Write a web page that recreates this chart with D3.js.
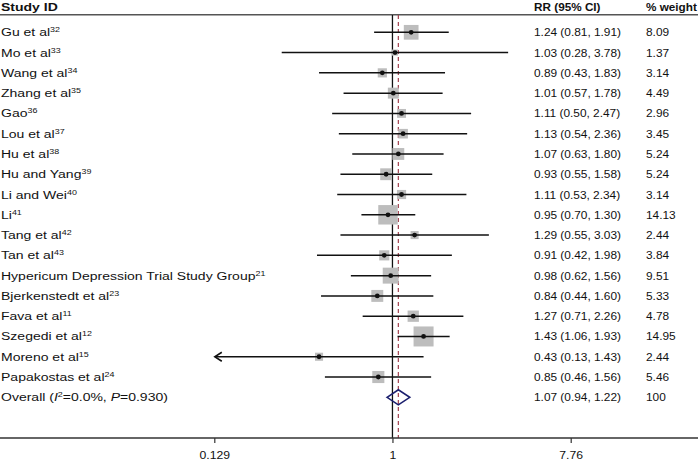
<!DOCTYPE html>
<html><head><meta charset="utf-8">
<script src="https://cdn.jsdelivr.net/npm/d3@7"></script>
<style>
body{margin:0;background:#fff;}
svg text{font-family:"Liberation Sans",Arial,sans-serif;fill:#111;}
</style></head>
<body><svg id="c" width="698" height="461"></svg>
<script>
const studies = ["Gu et al","Mo et al","Wang et al","Zhang et al","Gao","Lou et al","Hu et al","Hu and Yang","Li and Wei","Li","Tang et al","Tan et al","Hypericum Depression Trial Study Group","Bjerkenstedt et al","Fava et al","Szegedi et al","Moreno et al","Papakostas et al"];
const refs = ["32","33","34","35","36","37","38","39","40","41","42","43","21","23","11","12","15","24"];
const rr = [1.24,1.03,0.89,1.01,1.11,1.13,1.07,0.93,1.11,0.95,1.29,0.91,0.98,0.84,1.27,1.43,0.43,0.85];
const lo = [0.81,0.28,0.43,0.57,0.50,0.54,0.63,0.55,0.53,0.70,0.55,0.42,0.62,0.44,0.71,1.06,0.13,0.46];
const hi = [1.91,3.78,1.83,1.78,2.47,2.36,1.80,1.58,2.34,1.30,3.03,1.98,1.56,1.60,2.26,1.93,1.43,1.56];
const weights = [8.09,1.37,3.14,4.49,2.96,3.45,5.24,5.24,3.14,14.13,2.44,3.84,9.51,5.33,4.78,14.95,2.44,5.46];
const overall = {rr:1.07, lo:0.94, hi:1.22, weight:"100"};
const tickValues = [0.129, 1, 7.76];
const tickLabels = ["0.129","1","7.76"];

const svg = d3.select("#c");
const W = 698;
const SXL = 1.24, SXR = 1.05, SXH = 1.04, SXA = 1.08;
const x = d3.scaleLog().domain([0.129, 7.76]).range([214.3, 570.7]);
const y = d3.scalePoint().domain(d3.range(studies.length + 1)).range([32.3, 397.3]);
const side = d3.scaleSqrt().domain([0, 14.95]).range([0, 20]);
const fmt = d3.format(".2f");
const fs = 11.3;

function txt(px, py, sx, bold) {
  const t = svg.append("text").attr("transform",`translate(${px},${py}) scale(${sx},1)`).attr("font-size",fs);
  if (bold) t.attr("font-weight","bold");
  return t;
}

// header
txt(1,10.5,SXL,true).text("Study ID");
txt(534,10.5,SXH,true).text("RR (95% CI)");
txt(646,10.5,SXH,true).text("% weight");
svg.append("line").attr("x1",0).attr("x2",W).attr("y1",14.8).attr("y2",14.8).attr("stroke","#555").attr("stroke-width",1.4);

// reference line at 1
svg.append("line").attr("x1",x(1)).attr("x2",x(1)).attr("y1",15).attr("y2",438).attr("stroke","#111").attr("stroke-width",1.3);
// overall dashed
svg.append("line").attr("x1",x(overall.rr)).attr("x2",x(overall.rr)).attr("y1",15).attr("y2",438)
  .attr("stroke","#a2404e").attr("stroke-width",1.2).attr("stroke-dasharray","4,3");

// boxes
const g = svg.append("g");
studies.forEach((s,i)=>{
  const cy = y(i);
  const s2 = side(weights[i]);
  g.append("rect").attr("x",x(rr[i])-s2/2).attr("y",cy-s2/2).attr("width",s2).attr("height",s2).attr("fill","#bdbdbd");
});
// CI lines
studies.forEach((s,i)=>{
  const cy = y(i);
  const l = Math.max(lo[i], x.domain()[0]);
  const r = Math.min(hi[i], x.domain()[1]);
  g.append("line").attr("x1",x(l)).attr("x2",x(r)).attr("y1",cy).attr("y2",cy).attr("stroke","#111").attr("stroke-width",1.5);
  if (lo[i] <= 0.13) {
    const ax = x(x.domain()[0]) + 0.5;
    g.append("path").attr("d",`M${ax+7},${cy-4.5}L${ax},${cy}L${ax+7},${cy+4.5}`).attr("fill","none").attr("stroke","#111").attr("stroke-width",1.6);
  }
  g.append("circle").attr("cx",x(rr[i])).attr("cy",cy).attr("r",2.4).attr("fill","#111");
});

// labels
studies.forEach((s,i)=>{
  const cy = y(i);
  const t = txt(1, cy+4, SXL);
  t.append("tspan").text(s);
  t.append("tspan").attr("font-size",7.2).attr("dy",-4).text(refs[i]);
  txt(534, cy+4, SXR).text(`${fmt(rr[i])} (${fmt(lo[i])}, ${fmt(hi[i])})`);
  txt(646, cy+4, SXR).text(fmt(weights[i]));
});

// overall
const oy = y(studies.length);
svg.append("path").attr("d",`M${x(overall.lo)},${oy}L${x(overall.rr)},${oy-7.5}L${x(overall.hi)},${oy}L${x(overall.rr)},${oy+7.5}Z`)
  .attr("fill","none").attr("stroke","#1b1f6e").attr("stroke-width",1.6);
const ot = txt(1, oy+4, SXL);
ot.append("tspan").text("Overall (");
ot.append("tspan").attr("font-style","italic").text("I");
ot.append("tspan").attr("font-size",7.2).attr("dy",-4).text("2");
ot.append("tspan").attr("dy",4).text("=0.0%, ");
ot.append("tspan").attr("font-style","italic").text("P");
ot.append("tspan").text("=0.930)");
txt(534, oy+4, SXR).text(`${fmt(overall.rr)} (${fmt(overall.lo)}, ${fmt(overall.hi)})`);
txt(646, oy+4, SXR).text(overall.weight);

// axis
const axis = d3.axisBottom(x).tickValues(tickValues).tickFormat((d,i)=>tickLabels[i]).tickSize(5).tickSizeOuter(0);
const ag = svg.append("g").attr("transform","translate(0,438)").call(axis);
ag.select(".domain").remove();
ag.selectAll(".tick line").attr("stroke","#333").attr("stroke-width",1.2);
ag.selectAll(".tick text").attr("font-size",fs).attr("font-family","Liberation Sans, Arial, sans-serif")
  .attr("fill","#111").attr("y",0).attr("dy",0).attr("transform",`translate(0,20.5) scale(${SXA},1)`);
svg.append("line").attr("x1",0).attr("x2",W).attr("y1",438).attr("y2",438).attr("stroke","#333").attr("stroke-width",1.3);
</script></body></html>
